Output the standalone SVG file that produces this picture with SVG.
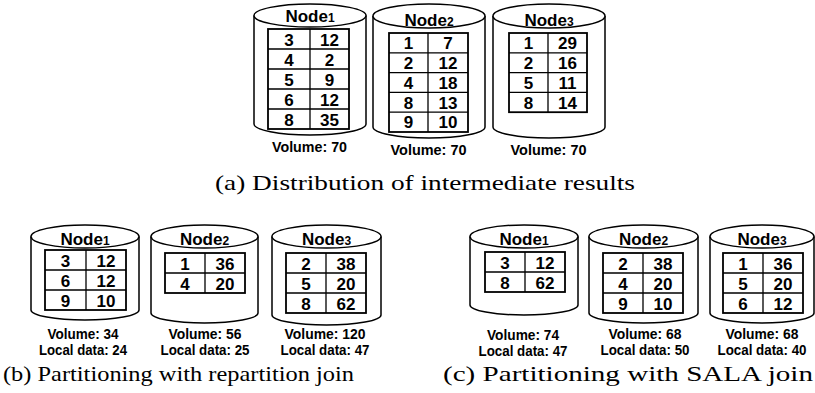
<svg xmlns="http://www.w3.org/2000/svg" width="815" height="393" viewBox="0 0 815 393">
<style>
.cyl{fill:#fff;stroke:#000;stroke-width:1.5}
.tbl{fill:none;stroke:#000;stroke-width:1.8}
.grid{stroke:#000;stroke-width:1.3;fill:none}
.num{font-family:"Liberation Sans",Arial,sans-serif;font-weight:bold;font-size:17px;text-anchor:middle;fill:#000}
.title{font-family:"Liberation Sans",Arial,sans-serif;font-weight:bold;font-size:17px;text-anchor:middle;fill:#000}
.sub{font-size:12px}
.lbl{font-family:"Liberation Sans",Arial,sans-serif;font-weight:bold;font-size:14.5px;text-anchor:middle;fill:#000}
.cap{font-family:"Liberation Serif","Times New Roman",serif;font-size:22px;fill:#000}
</style>
<rect width="815" height="393" fill="#fff"/>

<!-- (a) top row -->
<g id="a-node1">
<path class="cyl" d="M254,15.5 L254,124 A56,11 0 0 0 366,124 L366,15.5"/>
<ellipse class="cyl" cx="310" cy="15.5" rx="56" ry="11.5"/>
<text class="title" x="310" y="21.5">Node<tspan class="sub">1</tspan></text>
<rect class="tbl" x="268" y="29" width="81" height="100"/>
<path class="grid" d="M310,29V129M268,49H349M268,69H349M268,89H349M268,109H349"/>
<g class="num">
<text x="289" y="45.5">3</text><text x="329.5" y="45.5">12</text>
<text x="289" y="65.5">4</text><text x="329.5" y="65.5">2</text>
<text x="289" y="85.5">5</text><text x="329.5" y="85.5">9</text>
<text x="289" y="105.5">6</text><text x="329.5" y="105.5">12</text>
<text x="289" y="125.5">8</text><text x="329.5" y="125.5">35</text>
</g>
<text class="lbl" x="309.5" y="152" textLength="75" lengthAdjust="spacingAndGlyphs">Volume: 70</text>
</g>

<g id="a-node2">
<path class="cyl" d="M373,16 L373,127 A56,11 0 0 0 485,127 L485,16"/>
<ellipse class="cyl" cx="429" cy="16" rx="56" ry="12"/>
<text class="title" x="429" y="26">Node<tspan class="sub">2</tspan></text>
<rect class="tbl" x="389" y="33" width="79" height="99"/>
<path class="grid" d="M428,33V132M389,52.8H468M389,72.6H468M389,92.4H468M389,112.2H468"/>
<g class="num">
<text x="408.5" y="49.2">1</text><text x="448" y="49.2">7</text>
<text x="408.5" y="69">2</text><text x="448" y="69">12</text>
<text x="408.5" y="88.8">4</text><text x="448" y="88.8">18</text>
<text x="408.5" y="108.6">8</text><text x="448" y="108.6">13</text>
<text x="408.5" y="128.4">9</text><text x="448" y="128.4">10</text>
</g>
<text class="lbl" x="428.5" y="155" textLength="76" lengthAdjust="spacingAndGlyphs">Volume: 70</text>
</g>

<g id="a-node3">
<path class="cyl" d="M493,16 L493,127 A56,11 0 0 0 605,127 L605,16"/>
<ellipse class="cyl" cx="549" cy="16" rx="56" ry="12"/>
<text class="title" x="549" y="26">Node<tspan class="sub">3</tspan></text>
<rect class="tbl" x="509" y="33" width="78" height="79.2"/>
<path class="grid" d="M548,33V112.2M509,52.8H587M509,72.6H587M509,92.4H587"/>
<g class="num">
<text x="528.5" y="49.2">1</text><text x="567.5" y="49.2">29</text>
<text x="528.5" y="69">2</text><text x="567.5" y="69">16</text>
<text x="528.5" y="88.8">5</text><text x="567.5" y="88.8">11</text>
<text x="528.5" y="108.6">8</text><text x="567.5" y="108.6">14</text>
</g>
<text class="lbl" x="548.5" y="155" textLength="76" lengthAdjust="spacingAndGlyphs">Volume: 70</text>
</g>

<text class="cap" x="215" y="190" textLength="420" lengthAdjust="spacingAndGlyphs">(a) Distribution of intermediate results</text>

<!-- (b) repartition join -->
<g id="b-node1">
<path class="cyl" d="M31,236.5 L31,310 A54,10 0 0 0 139,310 L139,236.5"/>
<ellipse class="cyl" cx="85" cy="236.5" rx="54" ry="11.5"/>
<text class="title" x="85" y="245">Node<tspan class="sub">1</tspan></text>
<rect class="tbl" x="45" y="250" width="81" height="60"/>
<path class="grid" d="M86,250V310M45,270H126M45,290H126"/>
<g class="num">
<text x="65.5" y="266.5">3</text><text x="106" y="266.5">12</text>
<text x="65.5" y="286.5">6</text><text x="106" y="286.5">12</text>
<text x="65.5" y="306.5">9</text><text x="106" y="306.5">10</text>
</g>
<text class="lbl" x="83" y="339" textLength="71" lengthAdjust="spacingAndGlyphs">Volume: 34</text>
<text class="lbl" x="83" y="355" textLength="88" lengthAdjust="spacingAndGlyphs">Local data: 24</text>
</g>

<g id="b-node2">
<path class="cyl" d="M151,236.5 L151,313 A53.5,10 0 0 0 258,313 L258,236.5"/>
<ellipse class="cyl" cx="204.5" cy="236.5" rx="53.5" ry="11.5"/>
<text class="title" x="204.5" y="245">Node<tspan class="sub">2</tspan></text>
<rect class="tbl" x="165" y="253" width="80" height="40"/>
<path class="grid" d="M205,253V293M165,273H245"/>
<g class="num">
<text x="185" y="269.5">1</text><text x="225" y="269.5">36</text>
<text x="185" y="289.5">4</text><text x="225" y="289.5">20</text>
</g>
<text class="lbl" x="205" y="339" textLength="73" lengthAdjust="spacingAndGlyphs">Volume: 56</text>
<text class="lbl" x="205" y="355" textLength="89" lengthAdjust="spacingAndGlyphs">Local data: 25</text>
</g>

<g id="b-node3">
<path class="cyl" d="M272,236.5 L272,315 A54.5,10 0 0 0 381,315 L381,236.5"/>
<ellipse class="cyl" cx="326.5" cy="236.5" rx="54.5" ry="11.5"/>
<text class="title" x="326.5" y="245">Node<tspan class="sub">3</tspan></text>
<rect class="tbl" x="286" y="253" width="80" height="60"/>
<path class="grid" d="M326,253V313M286,273H366M286,293H366"/>
<g class="num">
<text x="306" y="269.5">2</text><text x="346" y="269.5">38</text>
<text x="306" y="289.5">5</text><text x="346" y="289.5">20</text>
<text x="306" y="309.5">8</text><text x="346" y="309.5">62</text>
</g>
<text class="lbl" x="325" y="339" textLength="81" lengthAdjust="spacingAndGlyphs">Volume: 120</text>
<text class="lbl" x="325" y="355" textLength="89" lengthAdjust="spacingAndGlyphs">Local data: 47</text>
</g>

<text class="cap" x="3" y="381" textLength="351" lengthAdjust="spacingAndGlyphs">(b) Partitioning with repartition join</text>

<!-- (c) SALA join -->
<g id="c-node1">
<path class="cyl" d="M470,236.5 L470,305 A54,10 0 0 0 578,305 L578,236.5"/>
<ellipse class="cyl" cx="524" cy="236.5" rx="54" ry="11.5"/>
<text class="title" x="524" y="245">Node<tspan class="sub">1</tspan></text>
<rect class="tbl" x="485" y="252" width="80" height="40"/>
<path class="grid" d="M525,252V292M485,272H565"/>
<g class="num">
<text x="505" y="268.5">3</text><text x="545" y="268.5">12</text>
<text x="505" y="288.5">8</text><text x="545" y="288.5">62</text>
</g>
<text class="lbl" x="523" y="340" textLength="72" lengthAdjust="spacingAndGlyphs">Volume: 74</text>
<text class="lbl" x="523" y="356" textLength="89" lengthAdjust="spacingAndGlyphs">Local data: 47</text>
</g>

<g id="c-node2">
<path class="cyl" d="M589,236.5 L589,313 A54.5,10 0 0 0 698,313 L698,236.5"/>
<ellipse class="cyl" cx="643.5" cy="236.5" rx="54.5" ry="11.5"/>
<text class="title" x="643.5" y="245">Node<tspan class="sub">2</tspan></text>
<rect class="tbl" x="603" y="253" width="80" height="60"/>
<path class="grid" d="M643,253V313M603,273H683M603,293H683"/>
<g class="num">
<text x="623" y="269.5">2</text><text x="663" y="269.5">38</text>
<text x="623" y="289.5">4</text><text x="663" y="289.5">20</text>
<text x="623" y="309.5">9</text><text x="663" y="309.5">10</text>
</g>
<text class="lbl" x="645" y="339" textLength="73" lengthAdjust="spacingAndGlyphs">Volume: 68</text>
<text class="lbl" x="645" y="355" textLength="89" lengthAdjust="spacingAndGlyphs">Local data: 50</text>
</g>

<g id="c-node3">
<path class="cyl" d="M710,236.5 L710,313 A52,10 0 0 0 814,313 L814,236.5"/>
<ellipse class="cyl" cx="762" cy="236.5" rx="52" ry="11.5"/>
<text class="title" x="762" y="245">Node<tspan class="sub">3</tspan></text>
<rect class="tbl" x="723" y="253" width="80" height="60"/>
<path class="grid" d="M763,253V313M723,273H803M723,293H803"/>
<g class="num">
<text x="743" y="269.5">1</text><text x="783" y="269.5">36</text>
<text x="743" y="289.5">5</text><text x="783" y="289.5">20</text>
<text x="743" y="309.5">6</text><text x="783" y="309.5">12</text>
</g>
<text class="lbl" x="762" y="339" textLength="73" lengthAdjust="spacingAndGlyphs">Volume: 68</text>
<text class="lbl" x="762" y="355" textLength="89" lengthAdjust="spacingAndGlyphs">Local data: 40</text>
</g>

<text class="cap" x="443" y="381" textLength="370" lengthAdjust="spacingAndGlyphs">(c) Partitioning with SALA join</text>
</svg>
